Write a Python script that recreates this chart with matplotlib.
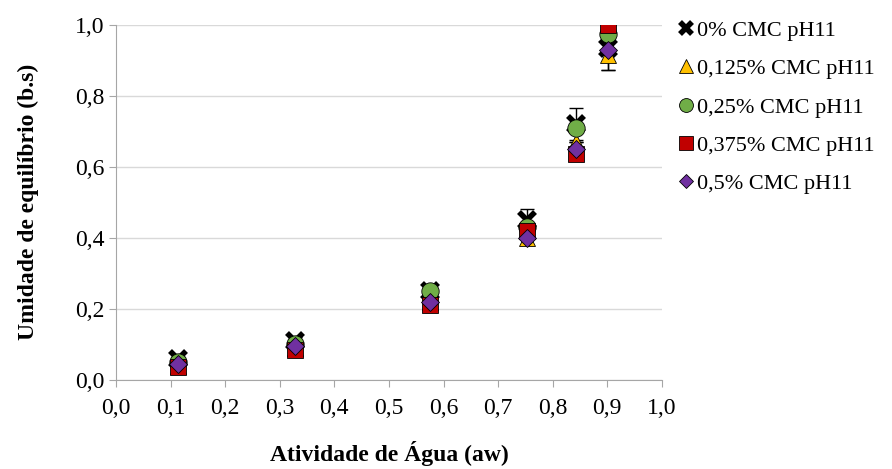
import numpy as np
import matplotlib.pyplot as plt

plt.rcParams['font.family'] = ['Liberation Serif', 'DejaVu Serif']

aw = [0.113, 0.328, 0.576, 0.753, 0.843, 0.902]
s0 = [0.060, 0.110, 0.250, 0.450, 0.720, 0.935]
s0_err = [0.005, 0.010, 0.010, 0.032, 0.045, 0.062]
s125 = [0.040, 0.090, 0.220, 0.400, 0.670, 0.915]
s125_err = [0.0, 0.0, 0.0, 0.0, 0.0, 0.042]
s25 = [0.050, 0.100, 0.250, 0.430, 0.710, 0.975]
s375 = [0.035, 0.085, 0.210, 0.420, 0.635, 1.000]
s5 = [0.045, 0.095, 0.220, 0.400, 0.650, 0.930]

labels = ['0% CMC pH11', '0,125% CMC pH11', '0,25% CMC pH11',
          '0,375% CMC pH11', '0,5% CMC pH11']

fig = plt.figure(figsize=(8.92, 4.69), dpi=100)
ax = fig.add_axes([0.130, 0.190, 0.612, 0.757])

ax.errorbar(aw, s0, yerr=s0_err, fmt='none', ecolor='black', elinewidth=1,
            capsize=5, zorder=2)
ax.errorbar(aw, s125, yerr=s125_err, fmt='none', ecolor='black', elinewidth=1,
            capsize=5, zorder=2)

h0, = ax.plot(aw, s0, linestyle='none', marker='x', color='black',
              markersize=11, markeredgewidth=4, zorder=3)
h1, = ax.plot(aw, s125, linestyle='none', marker='^', markerfacecolor='#FFC000',
              markeredgecolor='black', markeredgewidth=0.6, markersize=12, zorder=3.1)
h2, = ax.plot(aw, s25, linestyle='none', marker='o', markerfacecolor='#70AD47',
              markeredgecolor='black', markeredgewidth=0.6, markersize=12.5, zorder=3.2)
h3, = ax.plot(aw, s375, linestyle='none', marker='s', markerfacecolor='#C00000',
              markeredgecolor='black', markeredgewidth=0.6, markersize=12, zorder=3.3)
h4, = ax.plot(aw, s5, linestyle='none', marker='D', markerfacecolor='#7030A0',
              markeredgecolor='black', markeredgewidth=0.6, markersize=9.5, zorder=3.4)

ax.set_xlim(0, 1.0)
ax.set_ylim(0, 1.0)
ax.set_xticks(np.arange(0, 1.01, 0.1))
ax.set_yticks(np.arange(0, 1.01, 0.2))
ax.set_xticklabels([('%.1f' % v).replace('.', ',') for v in np.arange(0, 1.01, 0.1)])
ax.set_yticklabels([('%.1f' % v).replace('.', ',') for v in np.arange(0, 1.01, 0.2)])
ax.tick_params(labelsize=17, color='#A6A6A6', length=5, direction='out')
ax.tick_params(axis='x', pad=8)
ax.yaxis.grid(True, color='#D9D9D9', linewidth=1)
ax.set_axisbelow(True)
for s in ['top', 'right']:
    ax.spines[s].set_visible(False)
for s in ['left', 'bottom']:
    ax.spines[s].set_color('#A6A6A6')

ax.set_xlabel('Atividade de Água (aw)', fontsize=17, fontweight='bold', labelpad=16)
ax.set_ylabel('Umidade de equilíbrio (b.s)', fontsize=17, fontweight='bold', labelpad=26)

fig.legend([h0, h1, h2, h3, h4], labels, loc='upper left',
           bbox_to_anchor=(0.742, 0.985), frameon=False, fontsize=16,
           handletextpad=0.0, labelspacing=0.8, handlelength=1.0,
           borderaxespad=0.2, markerscale=0.8)

fig.savefig('out.png', dpi=100)
